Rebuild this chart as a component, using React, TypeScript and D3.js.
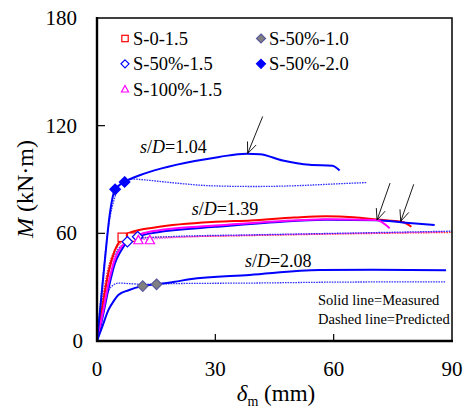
import React, { useEffect, useRef } from 'react';
import * as d3 from 'd3';

// measured (solid) and predicted (dashed) M–δm curves, [δm (mm), M (kN·m)]
const measuredS50_20: [number, number][] = [
  [0, 0], [1, 22], [2, 45], [3.2, 70], [4.6, 84.5], [7.0, 88.6], [11, 92.5], [16.4, 96.2],
  [24.8, 100.3], [31, 102.6], [37.9, 104.4], [41.3, 104.1], [47.1, 100.6], [53.9, 98.2],
  [59.7, 97.7], [61.5, 95.0],
];
const predictedS50_20: [number, number][] = [
  [0, 0], [1.5, 36], [3, 65], [4.5, 80], [6.3, 88.5], [9, 90.3], [12, 89.8], [20, 88],
  [29, 86.5], [40, 86.1], [50, 86.5], [60, 87.5], [68.4, 88.3],
];

const measuredS0: [number, number][] = [
  [0, 0], [1.5, 21], [3, 39], [4.5, 50.5], [6.4, 57.5], [8.8, 60.8], [15, 63.4], [30, 66.4],
  [39, 67.2], [50, 68.8], [58, 69.5], [65, 69.0], [71, 67.7], [77.5, 66.3], [79.7, 63.7],
];
const measuredS50_15: [number, number][] = [
  [0, 0], [1.5, 14], [3, 30], [4.5, 43], [6, 50], [7.7, 55.3], [10.3, 58.1], [15, 60.5],
  [30, 63.6], [45, 66.2], [58, 67.6], [71, 67.3], [77.5, 66.1], [85.6, 64.6],
];
const measuredS100: [number, number][] = [
  [0, 0], [1.5, 16], [3, 33], [4.5, 45.5], [6, 52], [8, 56.5], [11, 59.5], [15, 61.5],
  [30, 64.3], [45, 66.6], [58, 67.9], [70.8, 67.4], [74.2, 62.8],
];
const predictedS0: [number, number][] = [
  [0, 0], [1.5, 25], [3, 42], [5, 52], [7, 56], [10, 57.5], [20, 58], [40, 58.8],
  [60, 59.6], [90, 60.5],
];
const predictedS50_15: [number, number][] = [
  [0, 0], [1.5, 22], [3, 40], [5, 50], [7, 54.5], [10, 57], [20, 58.3], [40, 59.2],
  [60, 60], [90, 61.2],
];
const predictedS100: [number, number][] = [
  [0, 0], [1.5, 20], [3, 38], [5, 49], [7, 54], [10, 56.3], [13.4, 56.8], [20, 57.7],
  [40, 59], [60, 59.8], [88, 60.8],
];

const measuredS50_10: [number, number][] = [
  [0, 0], [1.5, 9], [2.9, 17.3], [4.3, 22.5], [5.4, 25.6], [8, 28.3], [11.6, 30.6],
  [15.1, 31.6], [19.7, 33], [23.5, 34.4], [38.7, 36.8], [56.5, 39.5], [70, 39.7], [88.5, 39.4],
];
const predictedS50_10: [number, number][] = [
  [0, 0], [1.2, 15], [2.5, 26], [4, 31], [5.5, 32.3], [8, 32], [12, 31.6], [20, 32],
  [40, 32.3], [60, 32.8], [88.5, 33],
];

// marker points
const marksS0: [number, number][] = [[6.4, 57.8], [8.8, 57.9]];
const marksS50_15: [number, number][] = [[7.7, 55.3], [10.3, 58.1]];
const marksS100: [number, number][] = [[10.5, 56.3], [13.4, 56.3]];
const marksS50_10: [number, number][] = [[11.6, 30.6], [15.1, 31.6]];
const marksS50_20: [number, number][] = [[4.6, 84.5], [7.0, 88.6]];

// failure arrows
const arrowTips: [number, number][] = [[38.2, 104.5], [71, 67.4], [77, 66.7]];

const xTicks = [0, 30, 60, 90];
const yTicks = [0, 60, 120, 180];

const legendItems = [
  { label: 'S-0-1.5', shape: 'square', col: 0, row: 0 },
  { label: 'S-50%-1.0', shape: 'diamondGray', col: 1, row: 0 },
  { label: 'S-50%-1.5', shape: 'diamondOpen', col: 0, row: 1 },
  { label: 'S-50%-2.0', shape: 'diamondBlue', col: 1, row: 1 },
  { label: 'S-100%-1.5', shape: 'triangle', col: 0, row: 2 },
];

const curveLabels = [
  { text: '1.04', x: 10.9, y: 104.5 },
  { text: '1.39', x: 24, y: 70.2 },
  { text: '2.08', x: 37.5, y: 41.2 },
];

const FONT = "'Liberation Serif', 'Times New Roman', Times, serif";

const App = () => {
  const svgRef = useRef<SVGSVGElement>(null);

  useEffect(() => {
    const width = 466;
    const height = 416;
    const svg = d3.select(svgRef.current);
    svg.selectAll('*').remove();
    svg.attr('width', width).attr('height', height).style('font-family', FONT);

    const x = d3.scaleLinear().domain([0, 90]).range([97, 452]);
    const y = d3.scaleLinear().domain([0, 180]).range([341, 18]);

    const line = d3.line<[number, number]>()
      .x(d => x(d[0]))
      .y(d => y(d[1]))
      .curve(d3.curveMonotoneX);

    const g = svg.append('g');

    // predicted (dashed)
    const dashed = [
      { d: predictedS0, c: '#ff3030' },
      { d: predictedS100, c: '#ff40ff' },
      { d: predictedS50_15, c: '#3030ff' },
      { d: predictedS50_20, c: '#3030ff' },
      { d: predictedS50_10, c: '#3030ff' },
    ];
    dashed.forEach(s => {
      g.append('path').attr('d', line(s.d)).attr('fill', 'none')
        .attr('stroke', s.c).attr('stroke-width', 1.3).attr('stroke-dasharray', '1.6,1');
    });

    // measured (solid)
    const solid = [
      { d: measuredS0, c: '#ff0000' },
      { d: measuredS50_15, c: '#0000ff' },
      { d: measuredS100, c: '#ff00ff' },
      { d: measuredS50_20, c: '#0000ff' },
      { d: measuredS50_10, c: '#0000ff' },
    ];
    solid.forEach(s => {
      g.append('path').attr('d', line(s.d)).attr('fill', 'none')
        .attr('stroke', s.c).attr('stroke-width', 2);
    });

    const drawMarker = (sel: any, shape: string, cx: number, cy: number, r: number) => {
      if (shape === 'square') {
        sel.append('rect').attr('x', cx - r).attr('y', cy - r).attr('width', 2 * r).attr('height', 2 * r)
          .attr('fill', 'white').attr('stroke', '#ff0000').attr('stroke-width', 1.2);
      } else if (shape === 'triangle') {
        const pts = [[cx, cy - r * 1.1], [cx + r * 1.1, cy + r * 0.9], [cx - r * 1.1, cy + r * 0.9]];
        sel.append('polygon').attr('points', pts.map(p => p.join(',')).join(' '))
          .attr('fill', 'white').attr('stroke', '#ff00ff').attr('stroke-width', 1.2);
      } else {
        const rr = r * 1.25;
        const pts = [[cx, cy - rr], [cx + rr, cy], [cx, cy + rr], [cx - rr, cy]];
        const fill = shape === 'diamondGray' ? '#808080' : shape === 'diamondBlue' ? '#0000ff' : 'white';
        const stroke = shape === 'diamondGray' ? '#5a5a9a' : '#0000ff';
        sel.append('polygon').attr('points', pts.map(p => p.join(',')).join(' '))
          .attr('fill', fill).attr('stroke', stroke).attr('stroke-width', 1.2);
      }
    };

    const markerSets = [
      { d: marksS0, shape: 'square' },
      { d: marksS50_15, shape: 'diamondOpen' },
      { d: marksS100, shape: 'triangle' },
      { d: marksS50_10, shape: 'diamondGray' },
      { d: marksS50_20, shape: 'diamondBlue' },
    ];
    markerSets.forEach(m => {
      m.d.forEach(p => drawMarker(g, m.shape, x(p[0]), y(p[1]), 4.2));
    });

    // arrows
    arrowTips.forEach((t, i) => {
      const tx = x(t[0]);
      const ty = y(t[1]);
      const dx = i === 0 ? 15 : 13;
      const dy = -37;
      const len = Math.hypot(dx, dy);
      const ux = dx / len;
      const uy = dy / len;
      const head = 12;
      const ang = 0.4;
      const rot = (a: number) => [
        tx + head * (ux * Math.cos(a) - uy * Math.sin(a)),
        ty + head * (ux * Math.sin(a) + uy * Math.cos(a)),
      ];
      const a1 = rot(ang);
      const a2 = rot(-ang);
      g.append('path')
        .attr('d', `M${tx + dx},${ty + dy}L${tx},${ty}M${a1[0]},${a1[1]}L${tx},${ty}L${a2[0]},${a2[1]}`)
        .attr('fill', 'none').attr('stroke', '#000').attr('stroke-width', 0.9);
    });

    // frame
    svg.append('rect').attr('x', 97).attr('y', 18).attr('width', 355).attr('height', 323)
      .attr('fill', 'none').attr('stroke', '#000').attr('stroke-width', 1.5);
    svg.append('line').attr('x1', 97).attr('x2', 97).attr('y1', 17).attr('y2', 342)
      .attr('stroke', '#000').attr('stroke-width', 2.4);
    svg.append('line').attr('x1', 96).attr('x2', 453).attr('y1', 341).attr('y2', 341)
      .attr('stroke', '#000').attr('stroke-width', 2.4);

    // ticks (inside)
    xTicks.slice(1, -1).forEach(v => {
      svg.append('line').attr('x1', x(v)).attr('x2', x(v)).attr('y1', 341).attr('y2', 334)
        .attr('stroke', '#000').attr('stroke-width', 1.2);
    });
    yTicks.slice(1, -1).forEach(v => {
      svg.append('line').attr('x1', 97).attr('x2', 105).attr('y1', y(v)).attr('y2', y(v))
        .attr('stroke', '#000').attr('stroke-width', 1.2);
    });

    // tick labels
    xTicks.forEach(v => {
      svg.append('text').attr('x', x(v)).attr('y', 376).attr('text-anchor', 'middle')
        .attr('font-size', 21).text(v);
    });
    yTicks.forEach(v => {
      svg.append('text').attr('x', v === 0 ? 83 : 77).attr('y', y(v) + 7).attr('text-anchor', 'end')
        .attr('font-size', 21).text(v);
    });

    // axis titles
    const xt = svg.append('text').attr('x', 276).attr('y', 401).attr('text-anchor', 'middle')
      .attr('font-size', 23);
    xt.append('tspan').attr('font-style', 'italic').text('δ');
    xt.append('tspan').attr('font-size', 14).attr('dy', 5).text('m');
    xt.append('tspan').attr('dy', -5).text(' (mm)');

    const yt = svg.append('text').attr('transform', 'translate(33,189) rotate(-90)')
      .attr('text-anchor', 'middle').attr('font-size', 24);
    yt.append('tspan').attr('font-style', 'italic').text('M');
    yt.append('tspan').text(' (kN·m)');

    // curve labels
    curveLabels.forEach(l => {
      const t = svg.append('text').attr('x', x(l.x)).attr('y', y(l.y)).attr('font-size', 18);
      t.append('tspan').attr('font-style', 'italic').text('s');
      t.append('tspan').text('/');
      t.append('tspan').attr('font-style', 'italic').text('D');
      t.append('tspan').text('=' + l.text);
    });

    // legend
    legendItems.forEach(item => {
      const mx = item.col === 0 ? 125 : 261;
      const my = 38.5 + item.row * 25.3;
      drawMarker(svg, item.shape, mx, my, item.shape === 'diamondBlue' || item.shape === 'diamondGray' ? 3.6 : 3.2);
      svg.append('text').attr('x', mx + 8).attr('y', my + 6.5).attr('font-size', 18.5).text(item.label);
    });

    // note
    ['Solid line=Measured', 'Dashed line=Predicted'].forEach((s, i) => {
      svg.append('text').attr('x', 318).attr('y', 305 + i * 18.5).attr('font-size', 14.5).text(s);
    });
  }, []);

  return (
    <div style={{ position: 'absolute', left: 0, top: 0 }}>
      <svg ref={svgRef} style={{ display: 'block' }}></svg>
    </div>
  );
};

export default App;
